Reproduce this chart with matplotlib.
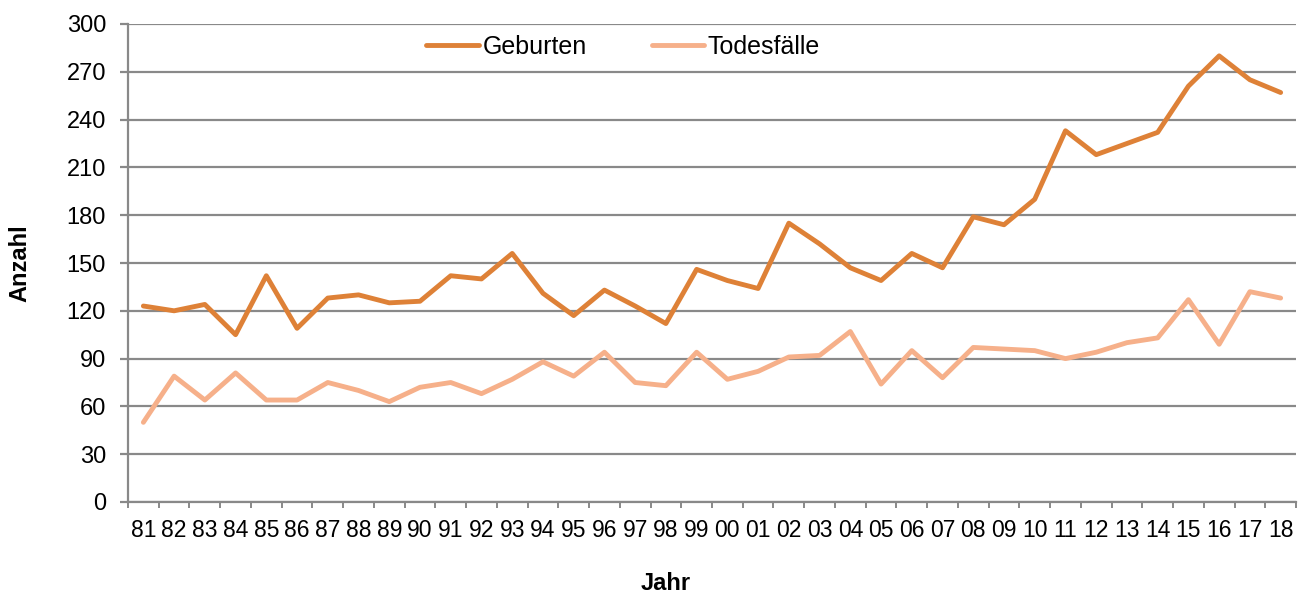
import matplotlib
matplotlib.use("Agg")
import matplotlib.pyplot as plt
from matplotlib.ticker import FixedLocator, NullFormatter

plt.rcParams['font.family'] = ['Liberation Sans', 'DejaVu Sans']

years = ["81", "82", "83", "84", "85", "86", "87", "88", "89", "90", "91", "92", "93", "94",
         "95", "96", "97", "98", "99", "00", "01", "02", "03", "04", "05", "06", "07", "08",
         "09", "10", "11", "12", "13", "14", "15", "16", "17", "18"]
geburten = [123, 120, 124, 105, 142, 109, 128, 130, 125, 126, 142, 140, 156, 131, 117, 133,
            123, 112, 146, 139, 134, 175, 162, 147, 139, 156, 147, 179, 174, 190, 233, 218,
            225, 232, 261, 280, 265, 257]
todesfaelle = [50, 79, 64, 81, 64, 64, 75, 70, 63, 72, 75, 68, 77, 88, 79, 94, 75, 73, 94, 77,
               82, 91, 92, 107, 74, 95, 78, 97, 96, 95, 90, 94, 100, 103, 127, 99, 132, 128]
yticks = list(range(0, 301, 30))

W, H = 1306, 594
L, R, T, B = 128, 1296, 24, 502
fig = plt.figure(figsize=(W/100, H/100), dpi=100)
ax = fig.add_axes([L/W, 1-B/H, (R-L)/W, (B-T)/H])

x = list(range(len(years)))
ax.plot(x, geburten, color='#DE8137', lw=3.5, label='Geburten', solid_capstyle='round')
ax.plot(x, todesfaelle, color='#F6B08A', lw=3.5, label='Todesfälle', solid_capstyle='round')

grid_c = '#898989'
ax.set_xlim(-0.5, len(years) - 0.5)
ax.set_ylim(0, 300)
ax.set_yticks(yticks)
ax.set_yticklabels([str(v) for v in yticks], fontsize=17)
ax.yaxis.grid(True, color=grid_c, lw=1.6)
ax.set_axisbelow(True)
ax.tick_params(axis='y', length=5.8, width=1.6, color=grid_c, pad=10)

ax.set_xticks(x)
ax.set_xticklabels(years, fontsize=16.5)
ax.tick_params(axis='x', which='major', length=0, pad=12.5)
ax.xaxis.set_minor_locator(FixedLocator([i - 0.5 for i in range(len(years) + 1)]))
ax.xaxis.set_minor_formatter(NullFormatter())
ax.tick_params(axis='x', which='minor', length=4.5, width=1.4, color=grid_c, direction='out')

for s in ['top', 'right']:
    ax.spines[s].set_visible(False)
for s in ['left', 'bottom']:
    ax.spines[s].set_color(grid_c)
    ax.spines[s].set_linewidth(1.6)

fig.text(20/W, 1-(B+T)/2/H, 'Anzahl', fontsize=17, fontweight='bold', rotation=90,
         ha='center', va='center')
fig.text(666/W, 1-583/H, 'Jahr', fontsize=17, fontweight='bold', ha='center', va='center')

leg = ax.legend(loc='center', bbox_to_anchor=((623-L)/(R-L), (B-47)/(B-T)), ncol=2,
                frameon=False, fontsize=18, handlelength=2.1, columnspacing=2.6,
                handletextpad=0.15, borderpad=0, borderaxespad=0)

fig.savefig('out.png', dpi=100)
